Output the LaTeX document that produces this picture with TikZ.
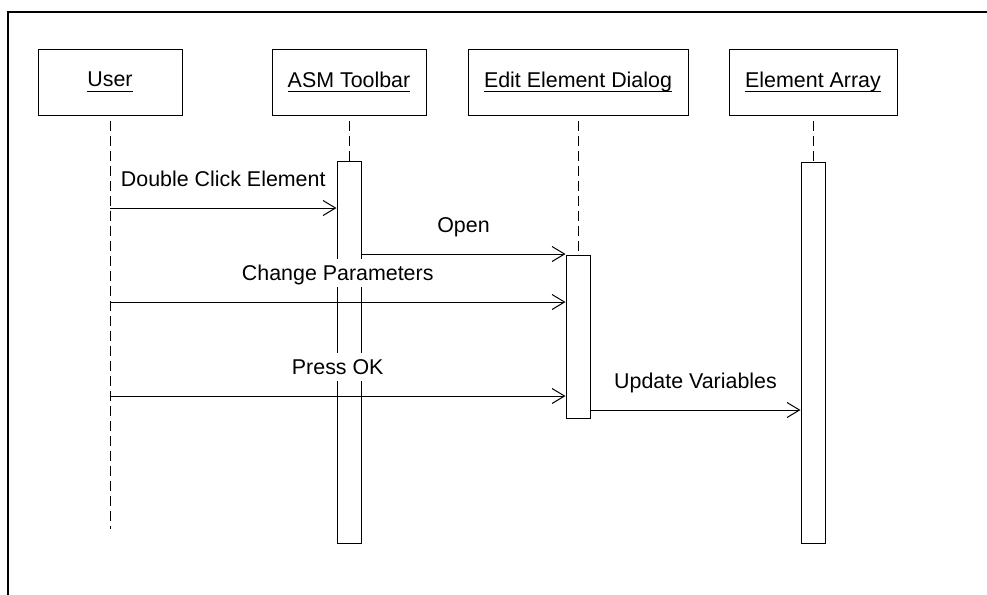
\documentclass[tikz,border=0pt]{standalone}
\usepackage{fontspec}
\setmainfont{Liberation Sans}
\usetikzlibrary{positioning,arrows.meta}
\newsavebox{\ulbox}
\newcommand{\uln}[1]{\sbox{\ulbox}{#1}\rlap{\rule[-2.7pt]{\wd\ulbox}{0.7pt}}\usebox{\ulbox}}

\begin{document}
\begin{tikzpicture}[
  x=0.5pt, y=-0.5pt,
  font=\fontsize{10.7}{12.8}\selectfont,
  head/.style={draw, line width=0.5pt, minimum height=33pt, inner sep=0pt},
  act/.style={draw, fill=white, line width=0.5pt, minimum width=12pt, inner sep=0pt},
  life/.style={line width=0.5pt, dash pattern=on 5pt off 2.5pt, dash phase=5pt},
  msg/.style={-{Straight Barb[length=6.25pt, width=7.5pt]}, line width=0.5pt},
  lab/.style={midway, anchor=base, yshift=10.7pt, fill=white, inner xsep=1pt, inner ysep=1pt,
              text height=9.7pt, text depth=2.3pt}
]
\useasboundingbox (0,0) rectangle (987,595);
% ----- frame (only top and left edges show) -----
\draw[line width=1pt] (8,595) -- (8,12) -- (987,12);
% ----- object heads -----
\node[head, minimum width=72pt] (user) at (110,82) {\uln{User}};
\node[head, minimum width=77pt] (asm) at (349,82) {\uln{ASM Toolbar}};
\node[head, minimum width=110pt] (edit) at (578,82) {\uln{Edit Element Dialog}};
\node[head, minimum width=84pt] (array) at (813,82) {\uln{Element Array}};
% ----- activation bars -----
\node[act, minimum height=191pt, below=22.5pt of asm] (asmact) {};
\node[act, minimum height=81.5pt, below=69.5pt of edit] (editact) {};
\node[act, minimum height=190.5pt, below=23pt of array] (arract) {};
\coordinate[below=206.5pt of user] (userend);
% ----- lifelines -----
\draw[life] (user) -- (userend);
\foreach \a/\b in {asm/asmact, edit/editact, array/arract}{\draw[life] (\a) -- (\b);}
% ----- message rows -----
\coordinate (m1) at (0,208);
\coordinate (m2) at (0,254);
\coordinate (m3) at (0,302);
\coordinate (m4) at (0,396);
\coordinate (m5) at (0,410);
\draw[msg] (user |- m1) -- node[lab]{Double Click Element} (asmact.west |- m1);
\draw[msg] (asmact.east |- m2) -- node[lab]{Open} (editact.west |- m2);
\draw[msg] (user |- m3) -- node[lab]{Change Parameters} (editact.west |- m3);
\draw[msg] (user |- m4) -- node[lab]{Press OK} (editact.west |- m4);
\draw[msg] (editact.east |- m5) -- node[lab]{Update Variables} (arract.west |- m5);
\end{tikzpicture}
\end{document}
